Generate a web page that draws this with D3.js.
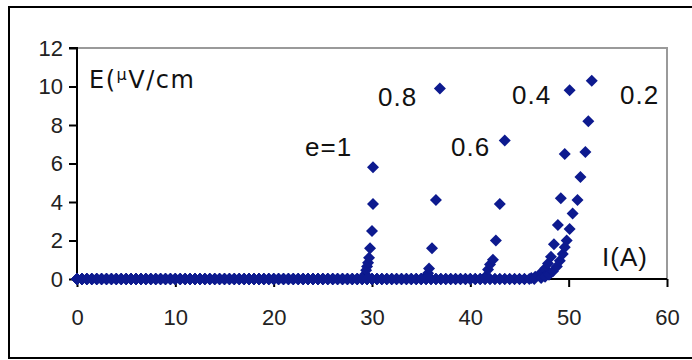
<!DOCTYPE html>
<html>
<head>
<meta charset="utf-8">
<script src="https://cdn.jsdelivr.net/npm/d3@7"></script>
<style>
  body { margin: 0; background: white; }
  svg { display: block; }
  .tick text { font-family: "Liberation Sans", Arial, sans-serif; font-size: 22px; fill: #222; }
  .lbl { font-family: "Liberation Sans", Arial, sans-serif; font-size: 26px; fill: #111; letter-spacing: 1px; }
</style>
</head>
<body>
<div id="chart"></div>
<script>
// currents where every curve still sits on E = 0 (A)
var baseCurrent = [0, 0.5, 1, 1.5, 2, 2.5, 3, 3.5, 4, 4.5, 5, 5.5, 6, 6.5, 7, 7.5, 8, 8.5, 9, 9.5,
  10, 10.5, 11, 11.5, 12, 12.5, 13, 13.5, 14, 14.5, 15, 15.5, 16, 16.5, 17, 17.5, 18, 18.5, 19, 19.5,
  20, 20.5, 21, 21.5, 22, 22.5, 23, 23.5, 24, 24.5, 25, 25.5, 26, 26.5, 27, 27.5, 28, 28.5,
  29, 29.5, 30, 30.5, 31, 31.5, 32, 32.5, 33, 33.5, 34, 34.5, 35, 35.5, 36, 36.5, 37, 37.5,
  38, 38.5, 39, 39.5, 40, 40.5, 41, 41.5, 42, 42.5, 43, 43.5, 44, 44.5, 45, 45.5, 46, 46.5];

var eNames = ["e=1", "0.8", "0.6", "0.4", "0.2"];
// current where each curve leaves zero
var onset = [29, 35.5, 41.5, 46, 47];

// rising part of each curve: current (A)
var riseI = [
  [29.1, 29.3, 29.4, 29.5, 29.6, 29.7, 29.8, 30.0, 30.1, 30.1],
  [35.5, 35.7, 35.8, 36.1, 36.5, 36.9],
  [41.6, 41.8, 42.0, 42.3, 42.6, 43.0, 43.5],
  [46.2, 46.6, 47.0, 47.3, 47.6, 47.9, 48.2, 48.5, 48.9, 49.2, 49.6, 50.1],
  [47.2, 47.6, 48.0, 48.4, 48.8, 49.1, 49.4, 49.6, 49.8, 50.1, 50.4, 50.9, 51.2, 51.7, 52.0, 52.35]
];
// rising part of each curve: E (uV/cm)
var riseE = [
  [0.1, 0.25, 0.45, 0.65, 0.85, 1.1, 1.6, 2.5, 3.9, 5.8],
  [0.1, 0.3, 0.55, 1.6, 4.1, 9.9],
  [0.15, 0.5, 0.75, 1.0, 2.0, 3.9, 7.2],
  [0.05, 0.12, 0.22, 0.35, 0.55, 0.8, 1.15, 1.8, 2.8, 4.2, 6.5, 9.8],
  [0.05, 0.12, 0.22, 0.4, 0.65, 0.95, 1.3, 1.65, 2.0, 2.6, 3.4, 4.1, 5.3, 6.6, 8.2, 10.3]
];

var xTicks = [0, 10, 20, 30, 40, 50, 60];
var yTicks = [0, 2, 4, 6, 8, 10, 12];

var markColor = "#0d1a8f";

var svg = d3.select("#chart").append("svg")
    .attr("width", 692)
    .attr("height", 360);

// outer frame
svg.append("rect")
    .attr("x", 9)
    .attr("y", 7)
    .attr("width", 700)
    .attr("height", 351)
    .style("fill", "white")
    .style("stroke", "black")
    .style("stroke-width", 2);

var x = d3.scaleLinear().domain([0, 60]).range([77, 667]);
var y = d3.scaleLinear().domain([0, 12]).range([279, 48]);

// gray plot border top + right
svg.append("path")
    .attr("d", "M" + x(0) + "," + y(12) + "H" + x(60) + "V" + y(0))
    .style("fill", "none")
    .style("stroke", "#9a9a9a")
    .style("stroke-width", 2);

var yAxis = svg.append("g")
    .attr("transform", "translate(" + x(0) + ",0)")
    .call(d3.axisLeft(y).tickValues(yTicks).tickSize(8).tickPadding(6).tickFormat(d3.format("d")));

var xAxis = svg.append("g")
    .attr("transform", "translate(0," + y(0) + ")")
    .call(d3.axisBottom(x).tickValues(xTicks).tickSize(8).tickPadding(22).tickFormat(d3.format("d")));

svg.selectAll(".domain").style("stroke", "black").style("stroke-width", 2);
svg.selectAll(".tick line").style("stroke", "black").style("stroke-width", 2);
yAxis.selectAll(".domain").attr("d", "M" + (-8) + "," + y(12) + "H0V" + y(0));
xAxis.selectAll(".domain").attr("d", "M" + x(0) + ",0H" + x(60));

// build point list per curve
var points = [];
eNames.forEach(function(name, k) {
  baseCurrent.forEach(function(c) {
    if (c < onset[k]) points.push({ i: c, e: 0 });
  });
  riseI[k].forEach(function(c, j) {
    points.push({ i: c, e: riseE[k][j] });
  });
});

var diamond = "M0,-6L6,0L0,6L-6,0Z";
svg.append("g").selectAll("path").data(points)
  .enter()
  .append("path")
  .attr("d", diamond)
  .attr("transform", function(d) {
      return "translate(" + x(d.i) + "," + y(d.e) + ")";
  })
  .style("fill", markColor);

// labels inside the plot
var unitLabel = svg.append("text")
    .attr("class", "lbl")
    .attr("x", 89)
    .attr("y", 88)
    .style("font-family", "'DejaVu Sans', sans-serif")
    .style("font-size", "24px")
    .style("letter-spacing", "1.5px");
unitLabel.append("tspan").text("E(");
unitLabel.append("tspan").text("\u03bc").style("font-size", "16px").attr("dy", -8);
unitLabel.append("tspan").text("V/cm").attr("dy", 8);

var curveLabelX = [305, 378, 451, 512, 620];
var curveLabelY = [156, 106, 156, 104, 104];
svg.selectAll(".curveLbl").data(eNames)
  .enter()
  .append("text")
  .attr("class", "lbl curveLbl")
  .attr("x", function(d, i) { return curveLabelX[i]; })
  .attr("y", function(d, i) { return curveLabelY[i]; })
  .text(function(d) { return d; });

svg.append("text")
    .attr("class", "lbl")
    .attr("x", 602)
    .attr("y", 266)
    .text("I(A)");
</script>
</body>
</html>
